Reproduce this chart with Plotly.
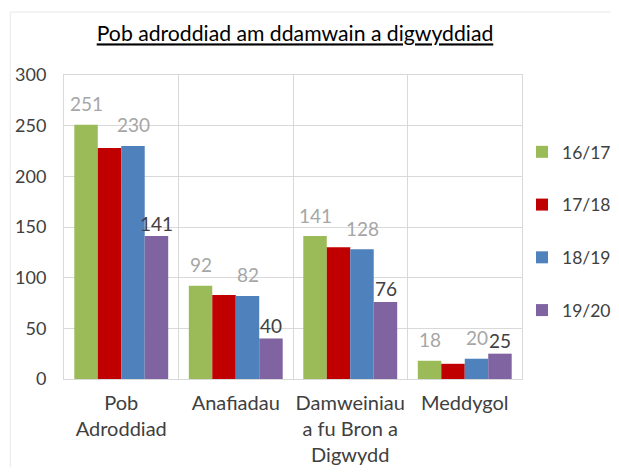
import plotly.graph_objects as go

categories = ["Pob<br>Adroddiad", "Anafiadau", "Damweiniau<br>a fu Bron a<br>Digwydd", "Meddygol"]
series_names = ["16/17", "17/18", "18/19", "19/20"]
v1617 = [251, 92, 141, 18]
v1718 = [228, 83, 130, 15]
v1819 = [230, 82, 128, 20]
v1920 = [141, 40, 76, 25]
y_ticks = [0, 50, 100, 150, 200, 250, 300]

colors = ["#9BBB59", "#C00000", "#4F81BD", "#8064A2"]
all_values = [v1617, v1718, v1819, v1920]
# which series get data labels, and their colour / lift above bar
label_colors = ["#A6A6A6", None, "#A6A6A6", "#404040"]
label_lift = [21, 0, 21, 13]

FONT = "Lato"
W, H = 603, 459

fig = go.Figure()
for i, (name, vals) in enumerate(zip(series_names, all_values)):
    fig.add_trace(go.Bar(
        x=categories, y=vals, name=name,
        marker=dict(color=colors[i], line=dict(width=0)),
        legendgroup=name,
    ))

bar_px = 23.5
for i, vals in enumerate(all_values):
    if label_colors[i] is None:
        continue
    for cat, v in zip(categories, vals):
        fig.add_annotation(
            x=cat, y=v, text=str(v), showarrow=False,
            xshift=(i - 1.5) * bar_px, yshift=label_lift[i],
            font=dict(family=FONT, size=19, color=label_colors[i]),
        )

fig.update_layout(
    width=W, height=H,
    margin=dict(l=56, r=87, t=67, b=88),
    paper_bgcolor="white", plot_bgcolor="white",
    barmode="group", bargap=0.18, bargroupgap=0,
    font=dict(family=FONT, size=17, color="#595959"),
    title=dict(
        text="<u>Pob adroddiad am ddamwain a digwyddiad</u>",
        x=287 / W, xanchor="center",
        y=1 - 26 / H, yanchor="middle", yref="container",
        font=dict(family=FONT, size=21.2, color="#000000"),
    ),
    legend=dict(
        xref="container", x=514 / W, xanchor="left",
        y=0.487, yanchor="middle",
        bgcolor="rgba(0,0,0,0)",
        font=dict(family=FONT, size=17.5, color="#404040"),
        tracegroupgap=27, itemwidth=30,
    ),
    xaxis=dict(
        tickson="boundaries", showgrid=True, gridcolor="#D9D9D9", gridwidth=1,
        showline=True, linecolor="#D9D9D9", mirror=True, tickangle=0,
        ticks="", ticklabelstandoff=6, automargin=False,
        tickfont=dict(family=FONT, size=20, color="#404040"),
    ),
    yaxis=dict(
        range=[0, 300], tickvals=y_ticks, showgrid=True, gridcolor="#D9D9D9",
        showline=True, linecolor="#D9D9D9", mirror=True, zeroline=False,
        ticks="outside", ticklen=13, tickcolor="rgba(0,0,0,0)", automargin=False,
        tickfont=dict(family=FONT, size=18, color="#404040"),
    ),
)

# faint outer chart border
fig.add_shape(type="rect", xref="paper", yref="paper",
              x0=-54 / 460, x1=1.25, y0=-0.33, y1=367 / 304,
              line=dict(color="#E8E8E8", width=1), layer="below")

fig.write_html("out.html")
